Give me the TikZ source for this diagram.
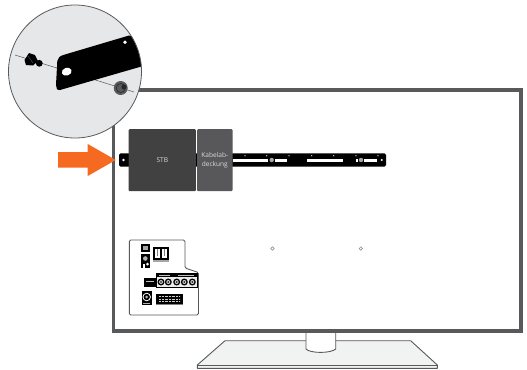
\documentclass[tikz,border=0pt]{standalone}
\usepackage{fontspec}
\setmainfont{Open Sans}
\definecolor{frameg}{HTML}{58595B}
\definecolor{stbg}{HTML}{414141}
\definecolor{kabg}{HTML}{58585A}
\definecolor{circg}{HTML}{E6E7E8}
\definecolor{orangeA}{HTML}{F56A20}
\definecolor{plateg}{HTML}{F1F2F2}
\definecolor{txtg}{HTML}{DADADA}
\tikzset{
  px/.style={x=1bp,y=-1bp},
  boxtext/.style={text=txtg,font=\fontsize{6.6}{9}\selectfont,align=center,inner sep=0pt},
}
\begin{document}
\begin{tikzpicture}[px]
\useasboundingbox (0,0) rectangle (527,369);
% stand
\draw[fill=plateg,draw=frameg,line width=0.9bp,line join=round] (225,340.7) -- (410.7,340.7) -- (437.3,365) -- (437.3,368.3) -- (197.3,368.3) -- (197.3,365) -- cycle;
\draw[frameg,line width=0.7bp] (197.3,365.3) -- (437.3,365.3);
\draw[fill=white,draw=frameg,line width=0.9bp] (306,331) -- (306,349) .. controls (310,353.5) and (331,353.5) .. (335.7,349) -- (335.7,331);
% tv frame
\draw[frameg,line width=3.4bp,fill=white] (113.5,90) rectangle (521,331);
% zoom circle
\draw[fill=circg,draw=none] (75,71.5) circle (66.5);
\draw[frameg,line width=0.5bp] (15,55) -- (134,92);
\begin{scope}
\clip (75,71.5) circle (66.5);
\fill[black] (60,90) .. controls (57,90.6) and (56,88) .. (56,85) -- (57.3,61) .. controls (57.5,58) and (60,56) .. (63.3,55) -- (129,35.5) -- (150,40) -- (150,64) -- cycle;
\end{scope}
\fill[white,rotate around={18:(66.7,71.7)}] (66.7,71.7) ellipse (5 and 3.9);
\fill[white] (125,42.3) circle (1.9);
\fill[black] (24.5,60) -- (29,53) -- (35,55) -- (38,61) -- (33,65.5) -- (26,65) -- cycle;
\draw[frameg,line width=0.4bp] (28,56) -- (33,63);
\fill[black] (39.3,63.3) circle (3.4);
\fill[frameg] (120.7,88) circle (7);
\draw[frameg!50!black,line width=0.7bp] (120.7,88) circle (4.5);
\fill[frameg!45!black] (124,87) circle (2.5);
\draw[frameg,line width=0.8bp] (75,71.5) circle (66.5);
% orange arrow
\fill[orangeA] (58,152) -- (87.7,152) -- (87.7,144) -- (115.7,160) -- (87.7,176) -- (87.7,167.7) -- (58,167.7) -- cycle;
% bar
\fill[black,rounded corners=1.5bp] (119,153.3) rectangle (386,166.7);
\foreach \a/\b in {232.5/268,275/287,306.7/343,356/357.5,364/376.7}{\fill[white] (\a,158.5) rectangle (\b,161.7);}
\foreach \xx in {271.7,361}{\fill[gray!70] (\xx,160) circle (2.2);}
\foreach \xx in {245,266.7,289,311.7,333.7,356,378}{\fill[white] (\xx,155.7) circle (0.6);}
\fill[white] (381.7,160) circle (1.2);
\fill[white] (123.5,160) circle (1.3);
% boxes
\node[boxtext,fill=stbg,rounded corners=1bp,minimum width=67.2bp,minimum height=62bp,anchor=north west] (stb) at (128.5,129) {STB};
\node[boxtext,fill=kabg,rounded corners=1bp,minimum width=35.3bp,minimum height=62bp,anchor=north west] (kab) at (197,129) {Kabelab-\\deckung};
% screw holes
\draw[gray,line width=0.5bp,fill=white] (272.5,248.5) circle (1.7);
\draw[gray,line width=0.5bp,fill=white] (360.8,248.5) circle (1.7);
% panel
\draw[frameg,line width=0.9bp,fill=white,rounded corners=1.5bp] (129.3,240) -- (185,240) -- (185,268) -- (198.5,272.5) -- (198.5,315) -- (129.3,315) -- cycle;
% top left jack box
\fill[black] (140.7,244) rectangle (150,252.3);
\fill[gray!70] (143,246) rectangle (148,250.3);
% twin connector
\fill[black] (152.7,246.7) rectangle (169.3,259.5);
\fill[white] (154.7,248.5) rectangle (159.7,258);
\fill[white] (162,248.5) rectangle (167.3,258);
\fill[gray] (156.5,248.5) rectangle (157.7,256);
\fill[gray] (164,248.5) rectangle (165.2,256);
\fill[gray!70] (152.7,260) rectangle (169.3,261.7);
% block
\fill[black] (140.7,254) rectangle (150,268.3);
\fill[gray!60] (145.3,258.5) circle (2.3);
\fill[white] (143,263.5) rectangle (144.5,268.3);
\fill[white] (147.5,264) circle (1.5);
% lower strip
\draw[black,line width=0.7bp,fill=gray!15] (156,273.5) rectangle (197,287.5);
\fill[black] (155.7,273.2) rectangle (197.3,276.7);
\fill[gray!50] (159,274.5) rectangle (170,275.3);
\fill[gray!50] (178,274.5) rectangle (194,275.3);
\fill[black] (144,277.7) rectangle (156,287);
\fill[gray!50] (146,281) rectangle (154,282);
\foreach \xx in {161,168.3,176.7,184.3,192.3}{\fill[black] (\xx,282) circle (3.5); \fill[gray!40] (\xx,282) circle (2); \fill[black] (\xx,282) circle (0.9);}
% bottom left round jack
\fill[black] (141.7,291.3) rectangle (151.7,305.3);
\fill[white] (146.7,297) circle (4.2);
\fill[black] (146.7,297) circle (3.2);
\fill[gray!60] (146.7,297) circle (1.5);
\fill[gray!60] (143,303) rectangle (150,303.8);
% scart
\fill[black] (155.7,294.3) rectangle (183.3,303.5);
\foreach \yy in {296.5,299,301.3}{\draw[gray!40,line width=0.7bp,dash pattern=on 0.7bp off 0.7bp] (159,\yy) -- (180,\yy);}
\fill[gray] (155.7,304) rectangle (183.3,305.3);
\end{tikzpicture}
\end{document}
